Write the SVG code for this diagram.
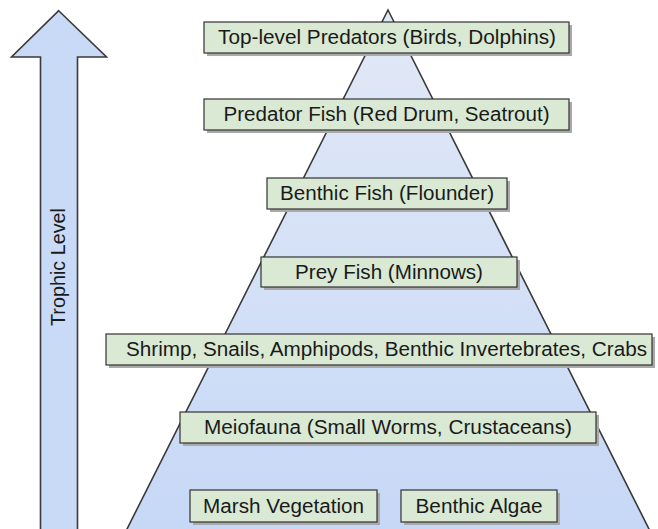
<svg xmlns="http://www.w3.org/2000/svg" width="658" height="529" viewBox="0 0 658 529">
  <style>
    .box { fill: #d9e9d3; stroke: #333333; stroke-width: 1.2; }
    .shadow { fill: #a9a9a9; }
    .lbl { font-family: "Liberation Sans", Arial, sans-serif; font-size: 20px; fill: #1a1a1a; text-anchor: middle; }
    .shape { stroke: #3a3a3a; stroke-width: 1.6; stroke-linejoin: miter; }
  </style>
  <defs>
    <linearGradient id="pyr" x1="0" y1="0" x2="0" y2="1">
      <stop offset="0" stop-color="#e2e9f6"/>
      <stop offset="1" stop-color="#c6d8f6"/>
    </linearGradient>
  </defs>
  <rect width="658" height="529" fill="#ffffff"/>

  <g id="pyramid">
    <polygon class="shape" fill="url(#pyr)" points="388,10 652,535 124,535"/>
  </g>

  <g id="trophic-arrow">
    <polygon class="shape" fill="#c9daf7" points="58.7,10.7 106.5,57 77.5,57 77.5,540 40.5,540 40.5,57 11.5,57"/>
    <text class="lbl" transform="translate(65,267) rotate(-90)" textLength="118" lengthAdjust="spacingAndGlyphs">Trophic Level</text>
  </g>

  <g id="connectors"></g>

  <g id="top-predators">
    <rect class="shadow" x="207" y="25" width="365" height="31"/>
    <rect class="box" x="204" y="22" width="365" height="31"/>
    <text class="lbl" x="387" y="44" textLength="338" lengthAdjust="spacingAndGlyphs">Top-level Predators (Birds, Dolphins)</text>
  </g>

  <g id="predator-fish">
    <rect class="shadow" x="207" y="102" width="365" height="31"/>
    <rect class="box" x="204" y="99" width="365" height="31"/>
    <text class="lbl" x="386.5" y="121" textLength="326" lengthAdjust="spacingAndGlyphs">Predator Fish (Red Drum, Seatrout)</text>
  </g>

  <g id="benthic-fish">
    <rect class="shadow" x="270" y="181" width="240" height="31"/>
    <rect class="box" x="267" y="178" width="240" height="31"/>
    <text class="lbl" x="387" y="200" textLength="214" lengthAdjust="spacingAndGlyphs">Benthic Fish (Flounder)</text>
  </g>

  <g id="prey-fish">
    <rect class="shadow" x="264" y="260" width="256" height="30"/>
    <rect class="box" x="261" y="257" width="256" height="30"/>
    <text class="lbl" x="389" y="278.5" textLength="188" lengthAdjust="spacingAndGlyphs">Prey Fish (Minnows)</text>
  </g>

  <g id="invertebrates">
    <rect class="shadow" x="109" y="337" width="546" height="31"/>
    <rect class="box" x="106" y="334" width="546" height="31"/>
    <text class="lbl" x="386.5" y="356" textLength="521" lengthAdjust="spacingAndGlyphs">Shrimp, Snails, Amphipods, Benthic Invertebrates, Crabs</text>
  </g>

  <g id="meiofauna">
    <rect class="shadow" x="183" y="415" width="416" height="31"/>
    <rect class="box" x="180" y="412" width="416" height="31"/>
    <text class="lbl" x="388" y="434" textLength="368" lengthAdjust="spacingAndGlyphs">Meiofauna (Small Worms, Crustaceans)</text>
  </g>

  <g id="marsh-vegetation">
    <rect class="shadow" x="193" y="493" width="187" height="32"/>
    <rect class="box" x="190" y="490" width="187" height="32"/>
    <text class="lbl" x="283.5" y="512.5" textLength="161" lengthAdjust="spacingAndGlyphs">Marsh Vegetation</text>
  </g>

  <g id="benthic-algae">
    <rect class="shadow" x="404" y="493" width="156" height="32"/>
    <rect class="box" x="401" y="490" width="156" height="32"/>
    <text class="lbl" x="479" y="512.5" textLength="127" lengthAdjust="spacingAndGlyphs">Benthic Algae</text>
  </g>
</svg>
